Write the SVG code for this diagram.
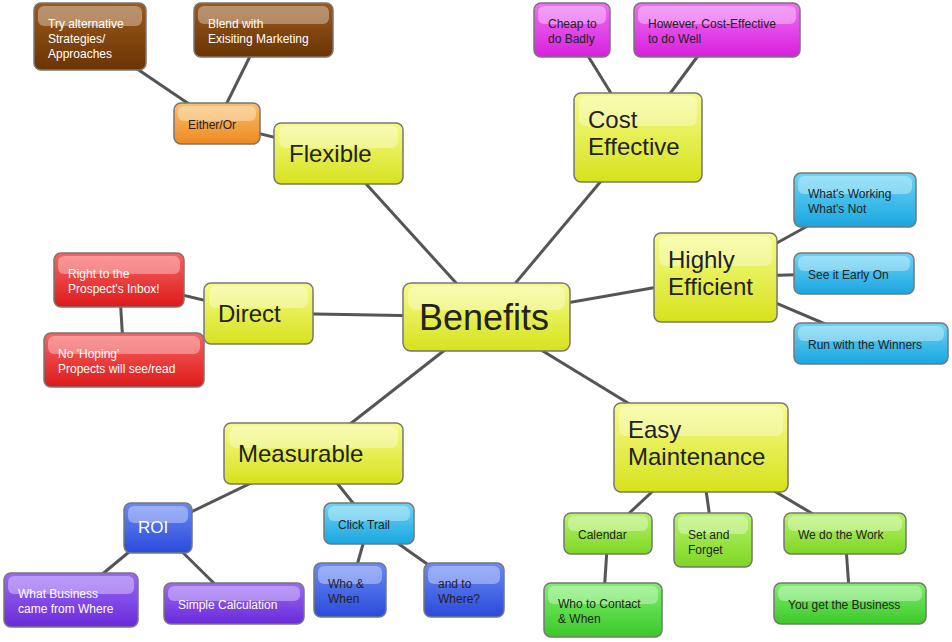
<svg xmlns="http://www.w3.org/2000/svg" width="952" height="642" viewBox="0 0 952 642">
<defs>
<linearGradient id="gY" x1="0" y1="0" x2="0" y2="1"><stop offset="0" stop-color="#f6fb8a"/><stop offset="1" stop-color="#d6e21c"/></linearGradient>
<linearGradient id="gO" x1="0" y1="0" x2="0" y2="1"><stop offset="0" stop-color="#fbbf6a"/><stop offset="1" stop-color="#ec8a22"/></linearGradient>
<linearGradient id="gBr" x1="0" y1="0" x2="0" y2="1"><stop offset="0" stop-color="#9a5a1c"/><stop offset="1" stop-color="#6a3404"/></linearGradient>
<linearGradient id="gM" x1="0" y1="0" x2="0" y2="1"><stop offset="0" stop-color="#f070f4"/><stop offset="1" stop-color="#d620dc"/></linearGradient>
<linearGradient id="gC" x1="0" y1="0" x2="0" y2="1"><stop offset="0" stop-color="#6cd4f6"/><stop offset="1" stop-color="#1aa6e0"/></linearGradient>
<linearGradient id="gR" x1="0" y1="0" x2="0" y2="1"><stop offset="0" stop-color="#f86464"/><stop offset="1" stop-color="#dc1a1a"/></linearGradient>
<linearGradient id="gB" x1="0" y1="0" x2="0" y2="1"><stop offset="0" stop-color="#6a8af6"/><stop offset="1" stop-color="#2a4ada"/></linearGradient>
<linearGradient id="gP" x1="0" y1="0" x2="0" y2="1"><stop offset="0" stop-color="#9a6af6"/><stop offset="1" stop-color="#6a2ad8"/></linearGradient>
<linearGradient id="gG" x1="0" y1="0" x2="0" y2="1"><stop offset="0" stop-color="#b6f46a"/><stop offset="1" stop-color="#7ed624"/></linearGradient>
<linearGradient id="gG2" x1="0" y1="0" x2="0" y2="1"><stop offset="0" stop-color="#7cf06a"/><stop offset="1" stop-color="#3cc82a"/></linearGradient>
<style>
rect.b{stroke:#777;stroke-width:1.5}
rect.h{fill:#fff;opacity:0.35}
text{font-family:"Liberation Sans",Arial,sans-serif;fill:#222}
.s{font-size:12px}
.w{fill:#fff}
.L{font-size:24px}
#conn line{stroke:#555;stroke-width:3}
</style>
</defs>
<g id="conn">
<line x1="487" y1="317" x2="338" y2="153"/>
<line x1="487" y1="317" x2="638" y2="137"/>
<line x1="487" y1="317" x2="715" y2="277"/>
<line x1="487" y1="317" x2="258" y2="313"/>
<line x1="487" y1="317" x2="313" y2="453"/>
<line x1="487" y1="317" x2="700" y2="447"/>
<line x1="338" y1="153" x2="217" y2="123"/>
<line x1="217" y1="123" x2="90" y2="37"/>
<line x1="217" y1="123" x2="263" y2="30"/>
<line x1="638" y1="137" x2="572" y2="30"/>
<line x1="638" y1="137" x2="717" y2="30"/>
<line x1="715" y1="277" x2="855" y2="200"/>
<line x1="715" y1="277" x2="854" y2="273"/>
<line x1="715" y1="277" x2="870" y2="343"/>
<line x1="258" y1="313" x2="119" y2="280"/>
<line x1="119" y1="280" x2="124" y2="360"/>
<line x1="313" y1="453" x2="158" y2="528"/>
<line x1="313" y1="453" x2="369" y2="523"/>
<line x1="158" y1="528" x2="71" y2="600"/>
<line x1="158" y1="528" x2="234" y2="603"/>
<line x1="369" y1="523" x2="350" y2="590"/>
<line x1="369" y1="523" x2="464" y2="590"/>
<line x1="700" y1="447" x2="608" y2="533"/>
<line x1="700" y1="447" x2="713" y2="540"/>
<line x1="700" y1="447" x2="845" y2="533"/>
<line x1="608" y1="533" x2="603" y2="610"/>
<line x1="845" y1="533" x2="850" y2="603"/>
</g>
<g id="benefits"><rect class="b" x="403" y="283" width="167" height="68" rx="8" fill="url(#gY)"/><rect class="h" x="408" y="286" width="157" height="24" rx="8"/><text x="419" y="330" font-size="36">Benefits</text></g>
<g id="flexible"><rect class="b" x="274" y="123" width="129" height="61" rx="7" fill="url(#gY)"/><rect class="h" x="279" y="126" width="119" height="22" rx="7"/><text x="289" y="162" class="L">Flexible</text></g>
<g id="cost"><rect class="b" x="574" y="93" width="128" height="89" rx="7" fill="url(#gY)"/><rect class="h" x="579" y="96" width="118" height="30" rx="7"/><text x="588" y="128" class="L">Cost</text><text x="588" y="155" class="L">Effective</text></g>
<g id="efficient"><rect class="b" x="654" y="233" width="123" height="89" rx="7" fill="url(#gY)"/><rect class="h" x="659" y="236" width="113" height="30" rx="7"/><text x="668" y="268" class="L">Highly</text><text x="668" y="295" class="L">Efficient</text></g>
<g id="direct"><rect class="b" x="204" y="283" width="109" height="61" rx="7" fill="url(#gY)"/><rect class="h" x="209" y="286" width="99" height="22" rx="7"/><text x="218" y="322" class="L">Direct</text></g>
<g id="measurable"><rect class="b" x="224" y="423" width="179" height="61" rx="7" fill="url(#gY)"/><rect class="h" x="229" y="426" width="169" height="22" rx="7"/><text x="238" y="462" class="L">Measurable</text></g>
<g id="easy"><rect class="b" x="614" y="403" width="174" height="89" rx="7" fill="url(#gY)"/><rect class="h" x="619" y="406" width="164" height="30" rx="7"/><text x="628" y="438" class="L">Easy</text><text x="628" y="465" class="L">Maintenance</text></g>
<g id="eitheror"><rect class="b" x="174" y="103" width="86" height="41" rx="7" fill="url(#gO)"/><rect class="h" x="178" y="106" width="78" height="15" rx="6"/><text x="188" y="129" class="s">Either/Or</text></g>
<g id="try"><rect class="b" x="34" y="3" width="112" height="67" rx="7" fill="url(#gBr)"/><rect class="h" x="38" y="6" width="104" height="20" rx="6"/><text x="48" y="28" class="s w">Try alternative</text><text x="48" y="43" class="s w">Strategies/</text><text x="48" y="58" class="s w">Approaches</text></g>
<g id="blend"><rect class="b" x="194" y="3" width="139" height="54" rx="7" fill="url(#gBr)"/><rect class="h" x="198" y="6" width="131" height="18" rx="6"/><text x="208" y="28" class="s w">Blend with</text><text x="208" y="43" class="s w">Exisiting Marketing</text></g>
<g id="cheap"><rect class="b" x="534" y="3" width="76" height="54" rx="7" fill="url(#gM)"/><rect class="h" x="538" y="6" width="68" height="18" rx="6"/><text x="548" y="28" class="s">Cheap to</text><text x="548" y="43" class="s">do Badly</text></g>
<g id="however"><rect class="b" x="634" y="3" width="166" height="54" rx="7" fill="url(#gM)"/><rect class="h" x="638" y="6" width="158" height="18" rx="6"/><text x="648" y="28" class="s">However, Cost-Effective</text><text x="648" y="43" class="s">to do Well</text></g>
<g id="working"><rect class="b" x="794" y="173" width="122" height="54" rx="7" fill="url(#gC)"/><rect class="h" x="798" y="176" width="114" height="18" rx="6"/><text x="808" y="198" class="s">What's Working</text><text x="808" y="213" class="s">What's Not</text></g>
<g id="early"><rect class="b" x="794" y="253" width="120" height="41" rx="7" fill="url(#gC)"/><rect class="h" x="798" y="256" width="112" height="15" rx="6"/><text x="808" y="279" class="s">See it Early On</text></g>
<g id="winners"><rect class="b" x="794" y="323" width="154" height="41" rx="7" fill="url(#gC)"/><rect class="h" x="798" y="326" width="146" height="15" rx="6"/><text x="808" y="349" class="s">Run with the Winners</text></g>
<g id="inbox"><rect class="b" x="54" y="253" width="130" height="54" rx="7" fill="url(#gR)"/><rect class="h" x="58" y="256" width="122" height="18" rx="6"/><text x="68" y="278" class="s w">Right to the</text><text x="68" y="293" class="s w">Prospect's Inbox!</text></g>
<g id="hoping"><rect class="b" x="44" y="333" width="160" height="54" rx="7" fill="url(#gR)"/><rect class="h" x="48" y="336" width="152" height="18" rx="6"/><text x="58" y="358" class="s w">No 'Hoping'</text><text x="58" y="373" class="s w">Propects will see/read</text></g>
<g id="roi"><rect class="b" x="124" y="503" width="68" height="50" rx="7" fill="url(#gB)"/><rect class="h" x="128" y="506" width="60" height="17" rx="6"/><text x="138" y="533" font-size="17" class="w">ROI</text></g>
<g id="click"><rect class="b" x="324" y="503" width="90" height="41" rx="7" fill="url(#gC)"/><rect class="h" x="328" y="506" width="82" height="15" rx="6"/><text x="338" y="529" class="s">Click Trail</text></g>
<g id="whatbiz"><rect class="b" x="4" y="573" width="134" height="54" rx="7" fill="url(#gP)"/><rect class="h" x="8" y="576" width="126" height="18" rx="6"/><text x="18" y="598" class="s w">What Business</text><text x="18" y="613" class="s w">came from Where</text></g>
<g id="simple"><rect class="b" x="164" y="583" width="140" height="41" rx="7" fill="url(#gP)"/><rect class="h" x="168" y="586" width="132" height="15" rx="6"/><text x="178" y="609" class="s w">Simple Calculation</text></g>
<g id="whowhen"><rect class="b" x="314" y="563" width="72" height="54" rx="7" fill="url(#gB)"/><rect class="h" x="318" y="566" width="64" height="18" rx="6"/><text x="328" y="588" class="s">Who &amp;</text><text x="328" y="603" class="s">When</text></g>
<g id="where"><rect class="b" x="424" y="563" width="80" height="54" rx="7" fill="url(#gB)"/><rect class="h" x="428" y="566" width="72" height="18" rx="6"/><text x="438" y="588" class="s">and to</text><text x="438" y="603" class="s">Where?</text></g>
<g id="calendar"><rect class="b" x="564" y="513" width="88" height="41" rx="7" fill="url(#gG)"/><rect class="h" x="568" y="516" width="80" height="15" rx="6"/><text x="578" y="539" class="s">Calendar</text></g>
<g id="setforget"><rect class="b" x="674" y="513" width="78" height="54" rx="7" fill="url(#gG)"/><rect class="h" x="678" y="516" width="70" height="18" rx="6"/><text x="688" y="539" class="s">Set and</text><text x="688" y="554" class="s">Forget</text></g>
<g id="work"><rect class="b" x="784" y="513" width="122" height="41" rx="7" fill="url(#gG)"/><rect class="h" x="788" y="516" width="114" height="15" rx="6"/><text x="798" y="539" class="s">We do the Work</text></g>
<g id="contact"><rect class="b" x="544" y="583" width="118" height="54" rx="7" fill="url(#gG2)"/><rect class="h" x="548" y="586" width="110" height="18" rx="6"/><text x="558" y="608" class="s">Who to Contact</text><text x="558" y="623" class="s">&amp; When</text></g>
<g id="business"><rect class="b" x="774" y="583" width="152" height="41" rx="7" fill="url(#gG2)"/><rect class="h" x="778" y="586" width="144" height="15" rx="6"/><text x="788" y="609" class="s">You get the Business</text></g>
</svg>
